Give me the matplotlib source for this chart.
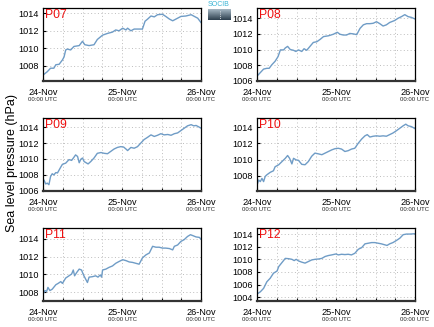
import matplotlib
matplotlib.use("Agg")
import matplotlib.pyplot as plt
import numpy as np
from matplotlib.ticker import MultipleLocator, FixedLocator

plt.rcParams['font.family'] = ['Liberation Sans', 'DejaVu Sans']

# (hours since 24-Nov 00:00 UTC, sea level pressure hPa)
p07 = [(0, 1006.9), (0.3, 1007.0), (1.3, 1007.3), (2.3, 1007.7), (3.3, 1007.7), (3.9, 1008.1),
       (4.9, 1008.15), (5.9, 1008.65), (6.4, 1009.0), (6.9, 1009.8), (7.4, 1009.9), (8.4, 1009.8),
       (9.4, 1010.2), (11.0, 1010.3), (12.0, 1010.8), (12.7, 1010.4), (14.0, 1010.3), (15.5, 1010.4),
       (16.5, 1011.0), (18.1, 1011.5), (19.6, 1011.7), (21.1, 1011.85), (22.1, 1012.1), (23.1, 1012.0),
       (24.2, 1012.3), (25.2, 1012.1), (25.7, 1012.3), (26.7, 1012.0), (27.7, 1012.2), (28.7, 1012.2),
       (30.2, 1012.2), (31.0, 1013.1), (31.8, 1013.35), (32.8, 1013.7), (33.8, 1013.6), (34.8, 1013.85),
       (36.3, 1013.9), (37.3, 1013.65), (38.4, 1013.35), (39.4, 1013.15), (40.4, 1013.35), (41.9, 1013.65),
       (43.4, 1013.7), (45.0, 1013.85), (46.0, 1013.65), (47.0, 1013.45), (48.0, 1012.95)]

p08 = [(0, 1006.6), (1.0, 1007.05), (2.0, 1007.5), (3.0, 1007.6), (3.7, 1007.6), (4.5, 1008.05),
       (5.5, 1008.5), (6.4, 1009.1), (7.1, 1009.95), (8.1, 1009.95), (8.6, 1010.2), (9.3, 1010.4),
       (10.1, 1010.0), (11.1, 1009.9), (11.8, 1009.75), (12.6, 1009.95), (13.6, 1009.75), (14.3, 1010.1),
       (15.1, 1009.9), (16.1, 1010.4), (17.1, 1010.9), (18.2, 1011.0), (19.2, 1011.3), (20.2, 1011.65),
       (21.7, 1011.75), (23.2, 1011.95), (24.4, 1012.2), (25.2, 1011.95), (26.2, 1011.85), (27.2, 1011.85),
       (28.2, 1012.05), (29.2, 1012.0), (30.3, 1011.9), (31.3, 1012.7), (32.3, 1013.15), (33.3, 1013.3),
       (34.3, 1013.3), (35.3, 1013.35), (36.3, 1013.55), (37.3, 1013.3), (38.3, 1013.0), (39.3, 1013.15),
       (40.3, 1013.45), (41.8, 1013.7), (42.9, 1014.0), (43.9, 1014.2), (44.9, 1014.45), (45.9, 1014.2),
       (46.9, 1014.1), (48.0, 1013.9)]

p09 = [(0, 1007.1), (0.3, 1007.3), (0.8, 1006.8), (1.3, 1006.9), (1.8, 1006.7), (2.3, 1007.75),
       (2.8, 1008.1), (3.3, 1007.95), (3.9, 1008.25), (4.4, 1008.2), (5.4, 1008.95), (5.9, 1009.3),
       (6.9, 1009.45), (7.9, 1009.9), (8.7, 1009.8), (9.4, 1010.2), (9.9, 1010.5), (10.5, 1010.3),
       (11.0, 1009.5), (11.5, 1009.95), (12.0, 1010.1), (12.5, 1009.65), (13.7, 1009.35), (14.5, 1009.65),
       (15.5, 1010.1), (16.5, 1010.7), (17.6, 1010.8), (18.6, 1010.7), (19.6, 1010.65), (20.6, 1010.95),
       (21.6, 1011.25), (22.6, 1011.45), (23.6, 1011.55), (24.5, 1011.5), (25.2, 1011.25), (25.7, 1011.05),
       (26.7, 1011.45), (27.7, 1011.35), (28.7, 1011.55), (29.7, 1012.0), (30.7, 1012.45), (31.8, 1012.75),
       (32.8, 1013.05), (33.8, 1012.85), (34.8, 1013.0), (35.8, 1013.2), (36.8, 1013.05), (37.9, 1013.1),
       (38.9, 1013.0), (39.9, 1013.2), (40.9, 1013.3), (41.9, 1013.6), (42.9, 1013.9), (43.9, 1014.2),
       (45.0, 1014.35), (45.8, 1014.2), (46.5, 1014.25), (47.2, 1014.1), (48.0, 1013.9)]

p10 = [(0, 1006.8), (0.5, 1007.45), (1.0, 1007.25), (1.5, 1007.65), (2.0, 1007.25), (2.5, 1007.9),
       (3.0, 1008.1), (4.0, 1008.4), (5.0, 1008.6), (5.5, 1009.1), (6.6, 1009.35), (7.6, 1009.75),
       (8.6, 1010.15), (9.3, 1010.5), (9.9, 1010.15), (10.6, 1009.45), (11.1, 1010.15), (11.9, 1009.95),
       (12.6, 1009.9), (13.6, 1009.4), (14.6, 1009.35), (15.6, 1009.75), (16.6, 1010.4), (17.6, 1010.8),
       (18.7, 1010.7), (19.7, 1010.6), (20.7, 1010.8), (21.7, 1011.0), (22.7, 1011.2), (23.7, 1011.35),
       (24.7, 1011.4), (25.7, 1011.3), (26.7, 1011.0), (27.7, 1011.1), (28.7, 1011.3), (29.7, 1011.4),
       (30.8, 1012.05), (31.8, 1012.55), (32.8, 1012.95), (33.5, 1013.1), (34.3, 1012.8), (35.3, 1012.9),
       (36.3, 1012.95), (37.3, 1012.9), (38.3, 1012.95), (39.3, 1012.9), (40.3, 1013.1), (41.3, 1013.3),
       (42.4, 1013.6), (43.4, 1013.9), (44.4, 1014.2), (45.2, 1014.4), (45.9, 1014.2), (46.9, 1014.1),
       (48.0, 1013.85)]

p11 = [(0, 1007.8), (0.6, 1008.2), (1.1, 1008.1), (1.5, 1008.55), (2.1, 1008.2), (2.8, 1008.35),
       (3.9, 1008.85), (4.6, 1009.0), (5.4, 1009.2), (5.9, 1009.0), (6.9, 1009.6), (7.9, 1009.85),
       (8.7, 1010.05), (9.2, 1010.5), (9.6, 1009.85), (10.2, 1010.2), (11.0, 1010.6), (11.7, 1010.5),
       (12.3, 1009.95), (13.0, 1009.45), (13.5, 1009.1), (14.0, 1009.7), (15.0, 1009.75), (16.0, 1009.85),
       (16.7, 1009.7), (17.4, 1009.95), (17.8, 1009.7), (18.1, 1010.5), (19.1, 1010.6), (20.1, 1010.8),
       (21.1, 1010.95), (22.1, 1011.25), (23.1, 1011.45), (24.2, 1011.65), (25.2, 1011.55), (26.2, 1011.4),
       (27.2, 1011.35), (28.2, 1011.25), (29.2, 1011.15), (30.2, 1011.85), (31.3, 1012.2), (32.3, 1012.4),
       (33.3, 1013.15), (34.3, 1013.05), (35.3, 1013.05), (36.3, 1012.95), (37.3, 1012.95), (38.4, 1012.9),
       (39.4, 1012.75), (39.9, 1013.15), (40.9, 1013.3), (41.9, 1013.7), (42.9, 1013.9), (43.9, 1014.25),
       (44.8, 1014.45), (45.5, 1014.35), (46.5, 1014.2), (47.5, 1014.15), (48.0, 1013.95)]

p12 = [(0, 1004.5), (1.0, 1004.85), (2.0, 1005.4), (3.0, 1006.45), (4.0, 1007.0), (5.0, 1007.8),
       (6.1, 1008.15), (6.6, 1008.85), (7.6, 1009.5), (8.6, 1010.15), (9.6, 1010.1), (10.6, 1010.0),
       (11.3, 1009.8), (11.9, 1010.0), (12.6, 1009.75), (13.6, 1009.55), (14.6, 1009.4), (15.6, 1009.65),
       (16.6, 1009.9), (17.6, 1010.0), (18.7, 1010.05), (19.7, 1010.15), (20.7, 1010.45), (21.7, 1010.6),
       (22.7, 1010.7), (24.0, 1010.85), (24.7, 1010.7), (25.7, 1010.8), (26.7, 1010.75), (27.7, 1010.8),
       (28.7, 1010.7), (29.7, 1010.95), (30.8, 1011.6), (31.8, 1011.85), (32.8, 1012.45), (33.8, 1012.55),
       (34.8, 1012.65), (35.8, 1012.65), (36.8, 1012.55), (37.8, 1012.45), (38.8, 1012.3), (39.5, 1012.2),
       (40.3, 1012.45), (41.3, 1012.65), (42.4, 1013.0), (43.4, 1013.35), (44.4, 1013.9), (45.4, 1014.0),
       (46.4, 1014.0), (48.0, 1014.05)]

names = ['P07', 'P08', 'P09', 'P10', 'P11', 'P12']
series = [p07, p08, p09, p10, p11, p12]
ylims = [(1006.23, 1014.62), (1005.98, 1015.3), (1005.9, 1015.2),
         (1006.08, 1015.17), (1007.03, 1015.2), (1003.4, 1014.96)]
tick_hours = [0, 24, 48]
tick_days = ['24-Nov', '25-Nov', '26-Nov']

W, H = 434, 327
fig = plt.figure(figsize=(W / 100, H / 100), dpi=100)

lefts = [43, 257]
tops = [8, 118, 228]
aw, ah = 158, 73

for i, (name, data, yl) in enumerate(zip(names, series, ylims)):
    r, c = divmod(i, 2)
    ax = fig.add_axes([lefts[c] / W, 1 - (tops[r] + ah) / H, aw / W, ah / H])
    t = np.array([d[0] for d in data])
    p = np.array([d[1] for d in data])
    ax.plot(t, p, color='#6f9cc6', lw=1.0)
    ax.set_xlim(0, 48)
    ax.set_ylim(*yl)
    ax.xaxis.set_major_locator(FixedLocator(tick_hours))
    ax.xaxis.set_minor_locator(MultipleLocator(6))
    ax.set_xticklabels(tick_days)
    ax.yaxis.set_major_locator(MultipleLocator(2))
    ax.yaxis.set_major_formatter(matplotlib.ticker.FormatStrFormatter('%d'))
    ax.grid(which='both', linestyle=(0, (1, 2.5)), color='#bdbdbd', lw=0.7)
    ax.tick_params(which='both', direction='in', length=2.5, width=0.8,
                   labelsize=6.6, pad=3)
    ax.tick_params(axis='x', pad=5)
    for s in ax.spines.values():
        s.set_linewidth(0.9)
    ax.spines['bottom'].set_linewidth(1.6)
    ax.spines['bottom'].set_color('#333333')
    for h in tick_hours:
        ax.text(h / 48, -0.255, '00:00 UTC', transform=ax.transAxes,
                ha='center', va='center', fontsize=4.3, color='#222222')
    ax.text(0.01, 0.985, name, transform=ax.transAxes, ha='left', va='top',
            fontsize=8.8, color='#ee1111')

fig.text(12 / W, 1 - 163 / H, 'Sea level pressure (hPa)', rotation=90,
         ha='center', va='center', fontsize=9)

# small logo at the top
lax = fig.add_axes([208 / W, 1 - 20 / H, 23 / W, 11 / H])
grad = np.tile(np.linspace(0, 1, 20).reshape(-1, 1), (1, 20))
logo_cmap = matplotlib.colors.LinearSegmentedColormap.from_list('logo', ['#a3b5c1', '#2f4150'])
lax.imshow(grad, aspect='auto', cmap=logo_cmap)
lax.plot([10, 10], [3, 17], color='white', lw=0.6, ls=':')
lax.set_axis_off()
fig.text(219 / W, 1 - 5 / H, 'SOCIB', ha='center', va='center', fontsize=5,
         color='#3ab4d4')

fig.savefig('out.png', dpi=100)
